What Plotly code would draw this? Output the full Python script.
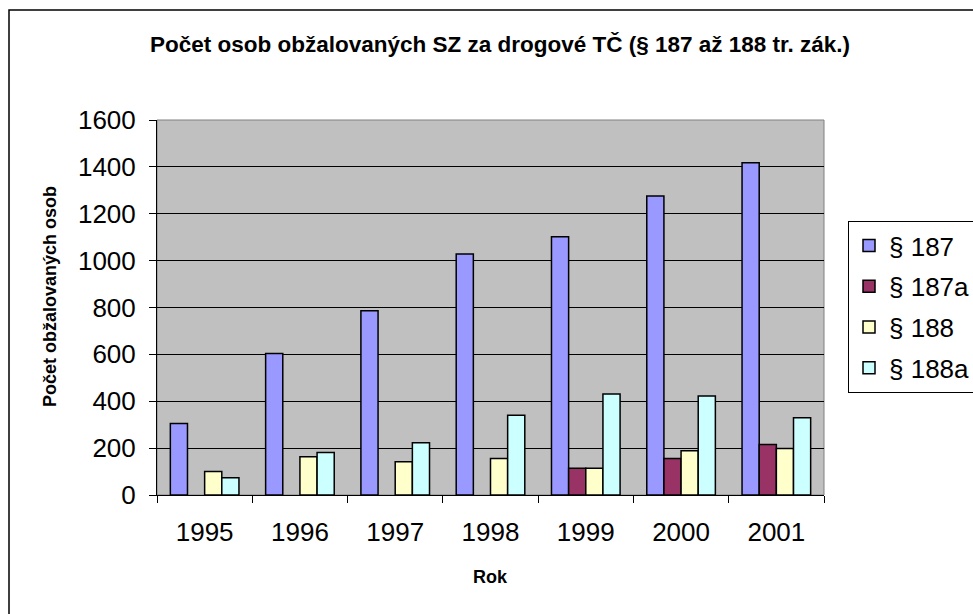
import plotly.graph_objects as go

years = ["1995", "1996", "1997", "1998", "1999", "2000", "2001"]
s187 = [305, 604, 786, 1028, 1102, 1276, 1418]
s187a = [None, None, None, None, 114, 156, 215]
s188 = [100, 163, 142, 156, 114, 189, 198]
s188a = [74, 181, 223, 340, 431, 422, 330]

series = [
    ("§ 187", s187, "#9999FF"),
    ("§ 187a", s187a, "#993366"),
    ("§ 188", s188, "#FFFFCC"),
    ("§ 188a", s188a, "#CCFFFF"),
]

FONT = "Arial, Liberation Sans, sans-serif"

fig = go.Figure()
for i, (name, vals, col) in enumerate(series):
    fig.add_trace(go.Bar(
        x=years, y=vals, name=name, legendgroup=f"g{i}",
        marker=dict(color=col, line=dict(color="black", width=1.5)),
    ))

W, H = 973, 614
L, R, T, B = 157, 149, 120, 119
pw = W - L - R
ph = H - T - B

def px(x):
    return (x - L) / pw

def py(y):
    return (H - B - y) / ph

fig.update_layout(
    width=W, height=H,
    margin=dict(l=L, r=R, t=T, b=B, autoexpand=False),
    paper_bgcolor="white",
    plot_bgcolor="#C0C0C0",
    barmode="group",
    bargap=0.28,
    bargroupgap=0,
    font=dict(family=FONT, color="black"),
    title=dict(
        text="<b>Počet osob obžalovaných SZ za drogové TČ (§ 187 až 188 tr. zák.)</b>",
        font=dict(size=22.5, family=FONT, color="black"),
        x=500 / W, xanchor="center", xref="container",
        y=1 - 44 / H, yanchor="middle", yref="container",
    ),
    xaxis=dict(
        showline=True, linecolor="black", linewidth=1,
        ticks="outside", ticklen=7, tickcolor="black",
        tickson="boundaries",
        tickfont=dict(size=26, family=FONT, color="black"),
        ticklabelstandoff=14,
        showgrid=False,
    ),
    yaxis=dict(
        range=[0, 1600], dtick=200,
        showline=True, linecolor="black", linewidth=1,
        ticks="outside", ticklen=7, tickcolor="black",
        gridcolor="black", gridwidth=1,
        tickfont=dict(size=26, family=FONT, color="black"),
        ticklabelstandoff=8,
        zeroline=False,
    ),
    legend=dict(
        x=px(848), y=py(221), xanchor="left", yanchor="top",
        bgcolor="white", bordercolor="black", borderwidth=1,
        font=dict(size=26, family=FONT, color="black"),
        traceorder="grouped",
        tracegroupgap=4,
        itemwidth=30,
    ),
    annotations=[
        dict(text="<b>Počet obžalovaných osob</b>", textangle=-90,
             xref="paper", yref="paper", x=px(50), y=py(297),
             xanchor="center", yanchor="middle",
             showarrow=False, font=dict(size=18, family=FONT, color="black")),
        dict(text="<b>Rok</b>",
             xref="paper", yref="paper", x=0.5, y=py(577),
             xanchor="center", yanchor="middle",
             showarrow=False, font=dict(size=18, family=FONT, color="black")),
    ],
    shapes=[
        dict(type="rect", xref="paper", yref="paper", x0=0, x1=1, y0=0, y1=1,
             line=dict(color="#808080", width=1), layer="below"),
        dict(type="rect", xref="paper", yref="paper",
             x0=px(9), x1=px(990), y0=py(630), y1=py(10),
             line=dict(color="black", width=1.5)),
    ],
)

fig.write_html("out.html", config={"displayModeBar": False},
               post_script="document.body.style.margin='0';")
